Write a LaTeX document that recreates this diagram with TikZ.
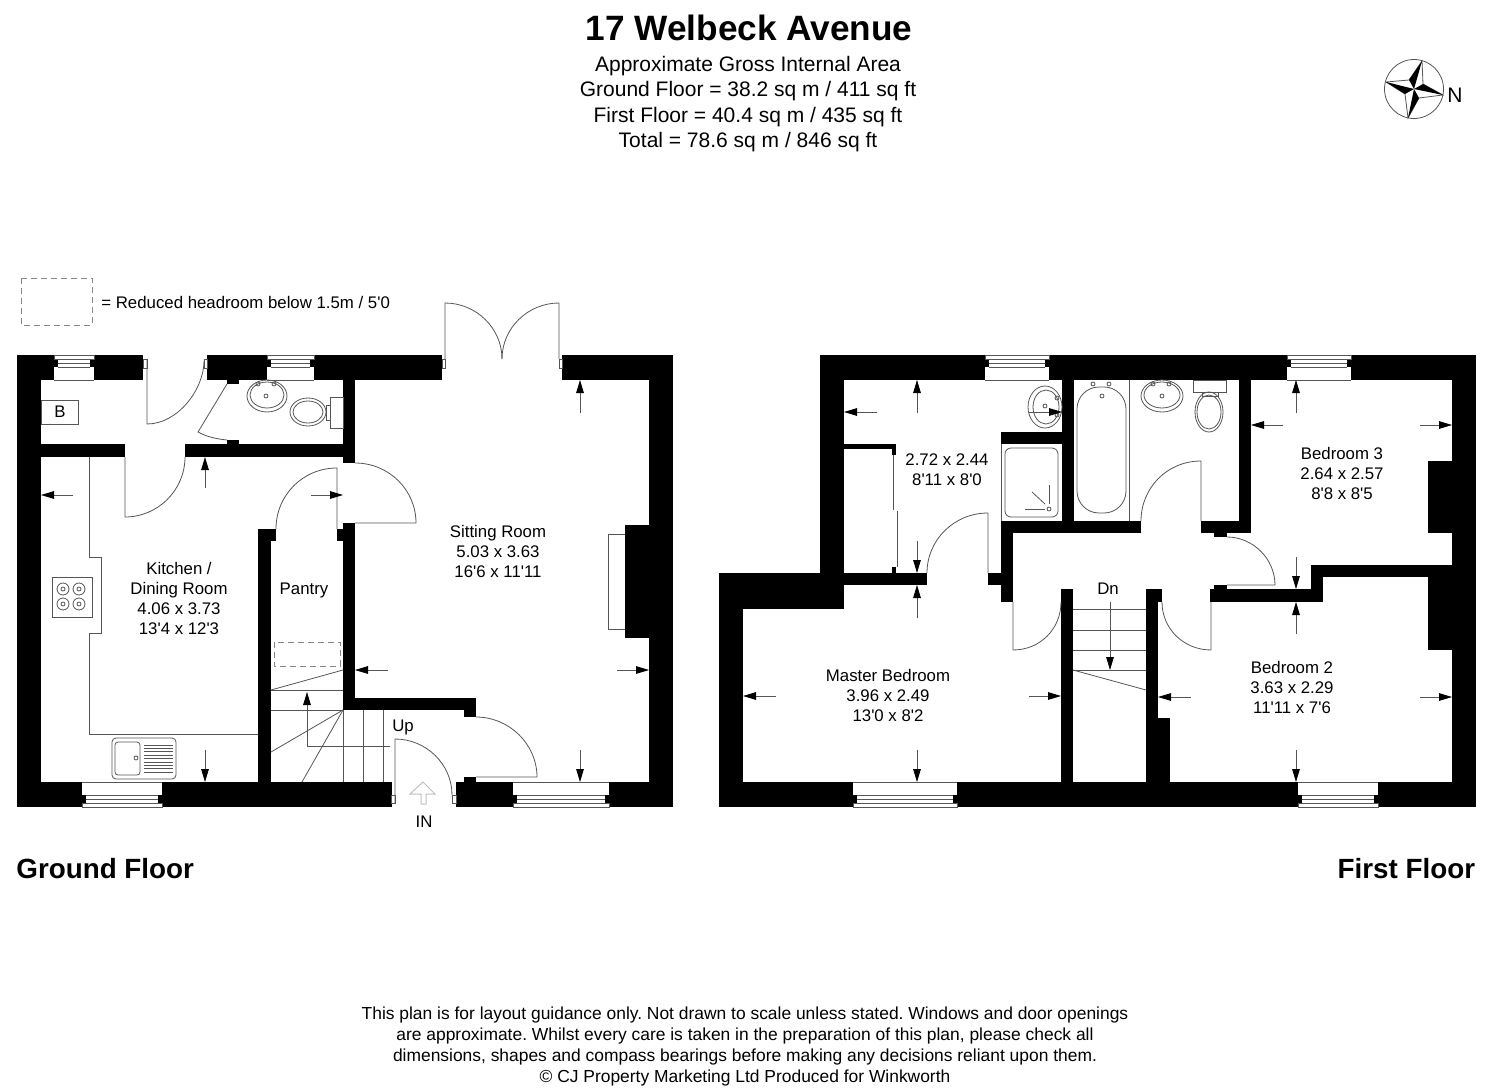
\documentclass[tikz,border=0pt]{standalone}
\usepackage{fontspec}
\usepackage{xcolor}
\usetikzlibrary{arrows.meta}
\newfontfamily\planfont{Liberation Sans}
\definecolor{linegrey}{HTML}{555555}
\definecolor{dashgrey}{HTML}{888888}
\frenchspacing
\tikzset{
    wall/.style={fill=black},
    planline/.style={draw=linegrey,line width=0.4pt},
    fixture/.style={draw=linegrey,line width=0.4pt},
    dashbox/.style={draw=dashgrey,line width=0.5pt,dash pattern=on 3pt off 2pt},
    dimline/.style={draw=linegrey,line width=0.4pt,-{Triangle[length=6.5pt,width=3.8pt,black]}},
    roomtext/.style={font=\planfont\fontsize{8.4}{10}\selectfont,align=center,inner sep=0pt},
    infotext/.style={font=\planfont\fontsize{10.5}{12.65}\selectfont,align=center,inner sep=0pt},
    floortext/.style={font=\planfont\bfseries\fontsize{13.9}{16}\selectfont,inner sep=0pt},
    titletext/.style={font=\planfont\bfseries\fontsize{17.6}{20}\selectfont,inner sep=0pt},
    noticetext/.style={font=\planfont\fontsize{8.71}{10.5}\selectfont,align=center,inner sep=0pt}
}
% x start, width, outer edge y, direction into the room
\newcommand{\winplan}[4]{
    \begin{scope}[shift={(#1,#3)},yscale=#4]
        \fill[white] (0,0) rectangle (#2,25);
        \fill[wall] (0,4) rectangle (4,12);
        \fill[wall] ({#2-4},4) rectangle (#2,12);
        \draw[planline] (0,0) rectangle (#2,4);
        \draw[planline] (4,8) -- ({#2-4},8);
        \draw[planline] (4,12) -- ({#2-4},12);
        \draw[planline] (0,25) -- (#2,25);
    \end{scope}
}
\begin{document}
\begin{tikzpicture}[x=0.5pt,y=-0.5pt]
    \useasboundingbox (0,0) rectangle (1500,1092);

    % Headings
    \node[titletext] (title) at (749,28) {17 Welbeck Avenue};
    \node[infotext] (areas) at (748,104) {Approximate Gross Internal Area\\Ground Floor = 38.2 sq m / 411 sq ft\\First Floor = 40.4 sq m / 435 sq ft\\Total = 78.6 sq m / 846 sq ft};
    \node[floortext,anchor=west] (groundname) at (16,869) {Ground Floor};
    \node[floortext,anchor=east] (firstname) at (1475.5,869) {First Floor};
    \node[noticetext] (notice) at (745,1046) {This plan is for layout guidance only. Not drawn to scale unless stated. Windows and door openings\\are approximate. Whilst every care is taken in the preparation of this plan, please check all\\dimensions, shapes and compass bearings before making any decisions reliant upon them.\\\textcopyright{} CJ Property Marketing Ltd Produced for Winkworth};

    % Compass
    \draw[planline] (1414,89) circle[radius=29.5];
    \draw[planline,fill=white] (1422,61) -- (1423,84) -- (1443,95) -- (1419,98) -- (1408,118) -- (1405,94) -- (1386,82) -- (1409,80) -- cycle;
    \fill[wall] (1422,61) -- (1409,80) -- (1414,89) -- cycle;
    \fill[wall] (1443,95) -- (1423,84) -- (1414,89) -- cycle;
    \fill[wall] (1408,118) -- (1419,98) -- (1414,89) -- cycle;
    \fill[wall] (1386,82) -- (1405,94) -- (1414,89) -- cycle;
    \node[roomtext,font=\planfont\fontsize{10.5}{12}\selectfont] (north) at (1455,95) {N};

    % Legend
    \draw[dashbox] (21,278) rectangle (92,325);
    \node[roomtext,anchor=west] (legend) at (101,302) {= Reduced headroom below 1.5m / 5'0};

    % Ground floor walls
    \fill[wall] (17,355) rectangle (143,380);
    \fill[wall] (207,355) rectangle (442,380);
    \fill[wall] (562,355) rectangle (673,380);
    \fill[wall] (17,355) rectangle (41,807);
    \fill[wall] (649,355) rectangle (673,807);
    \fill[wall] (17,782) rectangle (392,807);
    \fill[wall] (456,782) rectangle (673,807);
    \fill[wall] (41,444) rectangle (125,457);
    \fill[wall] (185,444) rectangle (355,457);
    \fill[wall] (343,380) rectangle (355,463);
    \fill[wall] (343,523) rectangle (355,710);
    \fill[wall] (343,698) rectangle (476,710);
    \fill[wall] (464,698) rectangle (476,717);
    \fill[wall] (464,777) rectangle (476,782);
    \fill[wall] (258,529) rectangle (271,782);
    \fill[wall] (258,529) rectangle (276,541);
    \fill[wall] (337,529) rectangle (343,541);
    \fill[wall] (227,380) rectangle (239,384);
    \fill[wall] (227,440) rectangle (239,444);
    \fill[wall] (625,525) rectangle (649,638);

    % Ground floor windows
    \winplan{54}{40}{355}{1}
    \winplan{267}{47}{355}{1}
    \winplan{82}{80}{807}{-1}
    \winplan{513}{96}{807}{-1}

    % Ground floor doors
    \draw[planline] (143,359) rectangle (147,368);
    \draw[planline] (147,359) -- (147,424) .. controls (178,424) and (204,389) .. (204,361);
    \draw[planline] (204,359) rectangle (207,368);
    \draw[planline] (227,384) -- (198,432) .. controls (207,437) and (217,439) .. (227,440);
    \draw[planline] (125,457) -- (125,517) .. controls (158,517) and (185,490) .. (185,457);
    \draw[planline] (337,529) -- (337,468) .. controls (303,468) and (276,495) .. (276,529);
    \draw[planline] (355,523) -- (416,523) .. controls (416,490) and (389,463) .. (355,463);
    \draw[planline] (476,777) -- (537,777) .. controls (537,744) and (509,717) .. (476,717);
    \draw[planline] (391,795) rectangle (395,803);
    \draw[planline] (395,803) -- (395,739) .. controls (426,739) and (452,764) .. (452,795);
    \draw[planline] (452,795) rectangle (456,803);
    \draw[planline] (442,359) rectangle (445,368);
    \draw[planline] (445,359) -- (445,303) .. controls (476,303) and (502,328) .. (502,359);
    \draw[planline] (559,359) -- (559,303) .. controls (528,303) and (502,328) .. (502,359);
    \draw[planline] (559,359) rectangle (562,368);
    \draw[draw=black!25,line width=0.5pt] (423,782) -- (435,794) -- (426,794) -- (426,804) -- (421,804) -- (421,794) -- (410,794) -- cycle;

    % Ground floor fittings
    \draw[planline] (89,457) -- (89,557) -- (101,557) -- (101,633) -- (89,633) -- (89,734) -- (258,734);
    \draw[planline] (608,534) -- (608,629) -- (625,629);
    \draw[planline] (608,534) -- (625,534);
    \draw[fixture] (41,400) rectangle (78,424);
    \node[roomtext] (boiler) at (60,412) {B};
    \draw[fixture] (52,577) rectangle (92,617);
    \foreach \hobx in {63,79}
        \foreach \hoby in {589,604} {
            \draw[fixture] (\hobx,\hoby) circle[radius=6];
            \draw[fixture] (\hobx,\hoby) circle[radius=2];
        }
    \draw[fixture,rounded corners=2pt] (112,738) rectangle (176,779);
    \draw[fixture,rounded corners=1.5pt] (115,742) rectangle (140,775);
    \draw[fixture] (136,758) circle[radius=2];
    \foreach \sinky in {745,748.4,...,773}
        \draw[fixture] (144,\sinky) -- (173,\sinky);
    \draw[fixture] (267,396) circle[x radius=20,y radius=16];
    \draw[fixture] (267,395) circle[x radius=17,y radius=13];
    \draw[fixture] (258,384) circle[radius=2];
    \draw[fixture] (274,384) circle[radius=2];
    \draw[fixture] (266,396) circle[radius=2];
    \draw[fixture] (308,412) circle[x radius=18,y radius=14];
    \draw[fixture] (308,412) circle[x radius=15,y radius=11];
    \draw[fixture] (330,397) rectangle (343,428);
    \draw[fixture] (326,405) rectangle (330,420);

    % Ground floor stairs
    \draw[dashbox] (274,642) rectangle (340,666);
    \draw[planline] (271,690) -- (343,670);
    \draw[planline] (271,690) -- (343,690);
    \draw[planline] (271,710) -- (343,710);
    \draw[planline] (343,710) -- (271,752);
    \draw[planline] (343,710) -- (302,782);
    \draw[planline] (343,710) -- (343,782);
    \draw[planline] (363,710) -- (363,782);
    \draw[planline] (383,710) -- (383,782);
    \draw[dimline] (390,746) -- (307,746) -- (307,692);

    % Ground floor dimensions
    \draw[dimline] (73,495) -- (41,495);
    \draw[dimline] (205,488) -- (205,457);
    \draw[dimline] (311,495) -- (343,495);
    \draw[dimline] (205,750) -- (205,782);
    \draw[dimline] (580,413) -- (580,380);
    \draw[dimline] (388,670) -- (355,670);
    \draw[dimline] (617,670) -- (649,670);
    \draw[dimline] (580,750) -- (580,782);

    % Ground floor labels
    \node[roomtext] (kitchen) at (179,598) {Kitchen /\\Dining Room\\4.06 x 3.73\\13'4 x 12'3};
    \node[roomtext] (sitting) at (498,551) {Sitting Room\\5.03 x 3.63\\16'6 x 11'11};
    \node[roomtext] (pantry) at (304,590) {Pantry};
    \node[roomtext] (upstairs) at (403,727) {Up};
    \node[roomtext] (entrance) at (424,822) {IN};

    % First floor walls
    \fill[wall] (820,355) rectangle (1476,380);
    \fill[wall] (1452,355) rectangle (1476,807);
    \fill[wall] (719,782) rectangle (1476,807);
    \fill[wall] (820,355) rectangle (844,609);
    \fill[wall] (719,573) rectangle (844,609);
    \fill[wall] (719,573) rectangle (743,807);
    \fill[wall] (844,573) rectangle (927,585);
    \fill[wall] (988,573) rectangle (1013,585);
    \fill[wall] (1001,521) rectangle (1013,602);
    \fill[wall] (1001,521) rectangle (1141,533);
    \fill[wall] (1201,521) rectangle (1251,533);
    \fill[wall] (1239,380) rectangle (1251,533);
    \fill[wall] (1214,533) rectangle (1227,537);
    \fill[wall] (1001,432) rectangle (1062,444);
    \fill[wall] (1062,380) rectangle (1074,521);
    \fill[wall] (844,444) rectangle (896,449);
    \fill[wall] (892,449) rectangle (896,455);
    \fill[wall] (892,567) rectangle (896,573);
    \fill[wall] (1428,461) rectangle (1452,533);
    \fill[wall] (1311,565) rectangle (1452,577);
    \fill[wall] (1311,565) rectangle (1323,602);
    \fill[wall] (1210,589) rectangle (1323,602);
    \fill[wall] (1214,585) rectangle (1227,589);
    \fill[wall] (1428,577) rectangle (1452,650);
    \fill[wall] (1061,589) rectangle (1073,782);
    \fill[wall] (1146,589) rectangle (1158,782);
    \fill[wall] (1146,589) rectangle (1162,602);
    \fill[wall] (1146,718) rectangle (1170,782);

    % First floor windows
    \winplan{985}{64}{355}{1}
    \winplan{1287}{64}{355}{1}
    \winplan{853}{104}{807}{-1}
    \winplan{1298}{80}{807}{-1}

    % First floor doors
    \draw[planline] (988,573) -- (988,513) .. controls (954,513) and (927,540) .. (927,573);
    \draw[planline] (1201,521) -- (1201,461) .. controls (1167,461) and (1141,488) .. (1141,521);
    \draw[planline] (1227,585) -- (1275,585) .. controls (1275,559) and (1253,537) .. (1227,537);
    \draw[planline] (1013,602) -- (1013,650) .. controls (1040,650) and (1061,629) .. (1061,602);
    \draw[planline] (1211,602) -- (1211,650) .. controls (1184,650) and (1162,629) .. (1162,602);
    \draw[planline] (893,455) -- (893,510);
    \draw[planline] (897,511) -- (897,567);

    % First floor fittings
    \draw[planline] (1001,444) -- (1001,521);
    \draw[planline] (1129,380) -- (1129,521);
    \draw[fixture,rounded corners=3pt] (1005,448) rectangle (1058,517);
    \draw[fixture] (1049,509) circle[radius=2];
    \draw[fixture] (1049,485) -- (1049,504);
    \draw[fixture] (1032,492) -- (1045,504);
    \draw[fixture] (1025,509) -- (1045,509);
    \draw[fixture,rounded corners=11pt] (1077,387) rectangle (1126,513);
    \draw[fixture] (1093,384) circle[radius=2];
    \draw[fixture] (1109,384) circle[radius=2];
    \draw[fixture] (1102,396) circle[radius=2];
    \draw[fixture] (1045,407) circle[x radius=17,y radius=21];
    \draw[fixture] (1046,407) circle[x radius=13,y radius=17];
    \draw[fixture] (1057,398) circle[radius=2];
    \draw[fixture] (1057,415) circle[radius=2];
    \draw[fixture] (1045,406) circle[radius=2];
    \draw[fixture] (1162,396) circle[x radius=21,y radius=16];
    \draw[fixture] (1162,395) circle[x radius=18,y radius=13];
    \draw[fixture] (1153,384) circle[radius=2];
    \draw[fixture] (1169,384) circle[radius=2];
    \draw[fixture] (1162,396) circle[radius=2];
    \draw[fixture] (1193,380) rectangle (1226,392);
    \draw[fixture] (1202,392) rectangle (1218,396);
    \draw[fixture] (1209,412) circle[x radius=14,y radius=20];
    \draw[fixture] (1209,412) circle[x radius=12,y radius=17];

    % First floor stairs
    \foreach \tready in {609,630,650,670}
        \draw[planline] (1073,\tready) -- (1146,\tready);
    \draw[planline] (1073,670) -- (1146,690);
    \draw[dimline] (1110,602) -- (1110,670);

    % First floor dimensions
    \draw[dimline] (917,413) -- (917,380);
    \draw[dimline] (877,412) -- (844,412);
    \draw[dimline] (1029,412) -- (1062,412);
    \draw[dimline] (917,541) -- (917,573);
    \draw[dimline] (917,618) -- (917,585);
    \draw[dimline] (776,696) -- (743,696);
    \draw[dimline] (1029,696) -- (1061,696);
    \draw[dimline] (917,750) -- (917,782);
    \draw[dimline] (1296,413) -- (1296,380);
    \draw[dimline] (1283,425) -- (1251,425);
    \draw[dimline] (1420,425) -- (1452,425);
    \draw[dimline] (1296,557) -- (1296,589);
    \draw[dimline] (1296,634) -- (1296,602);
    \draw[dimline] (1191,697) -- (1158,697);
    \draw[dimline] (1420,697) -- (1452,697);
    \draw[dimline] (1296,750) -- (1296,782);

    % First floor labels
    \node[roomtext] (ensuite) at (947,470) {2.72 x 2.44\\8'11 x 8'0};
    \node[roomtext] (master) at (888,695) {Master Bedroom\\3.96 x 2.49\\13'0 x 8'2};
    \node[roomtext] (bedthree) at (1342,473) {Bedroom 3\\2.64 x 2.57\\8'8 x 8'5};
    \node[roomtext] (bedtwo) at (1292,687) {Bedroom 2\\3.63 x 2.29\\11'11 x 7'6};
    \node[roomtext] (downstairs) at (1108,589) {Dn};
\end{tikzpicture}
\end{document}
